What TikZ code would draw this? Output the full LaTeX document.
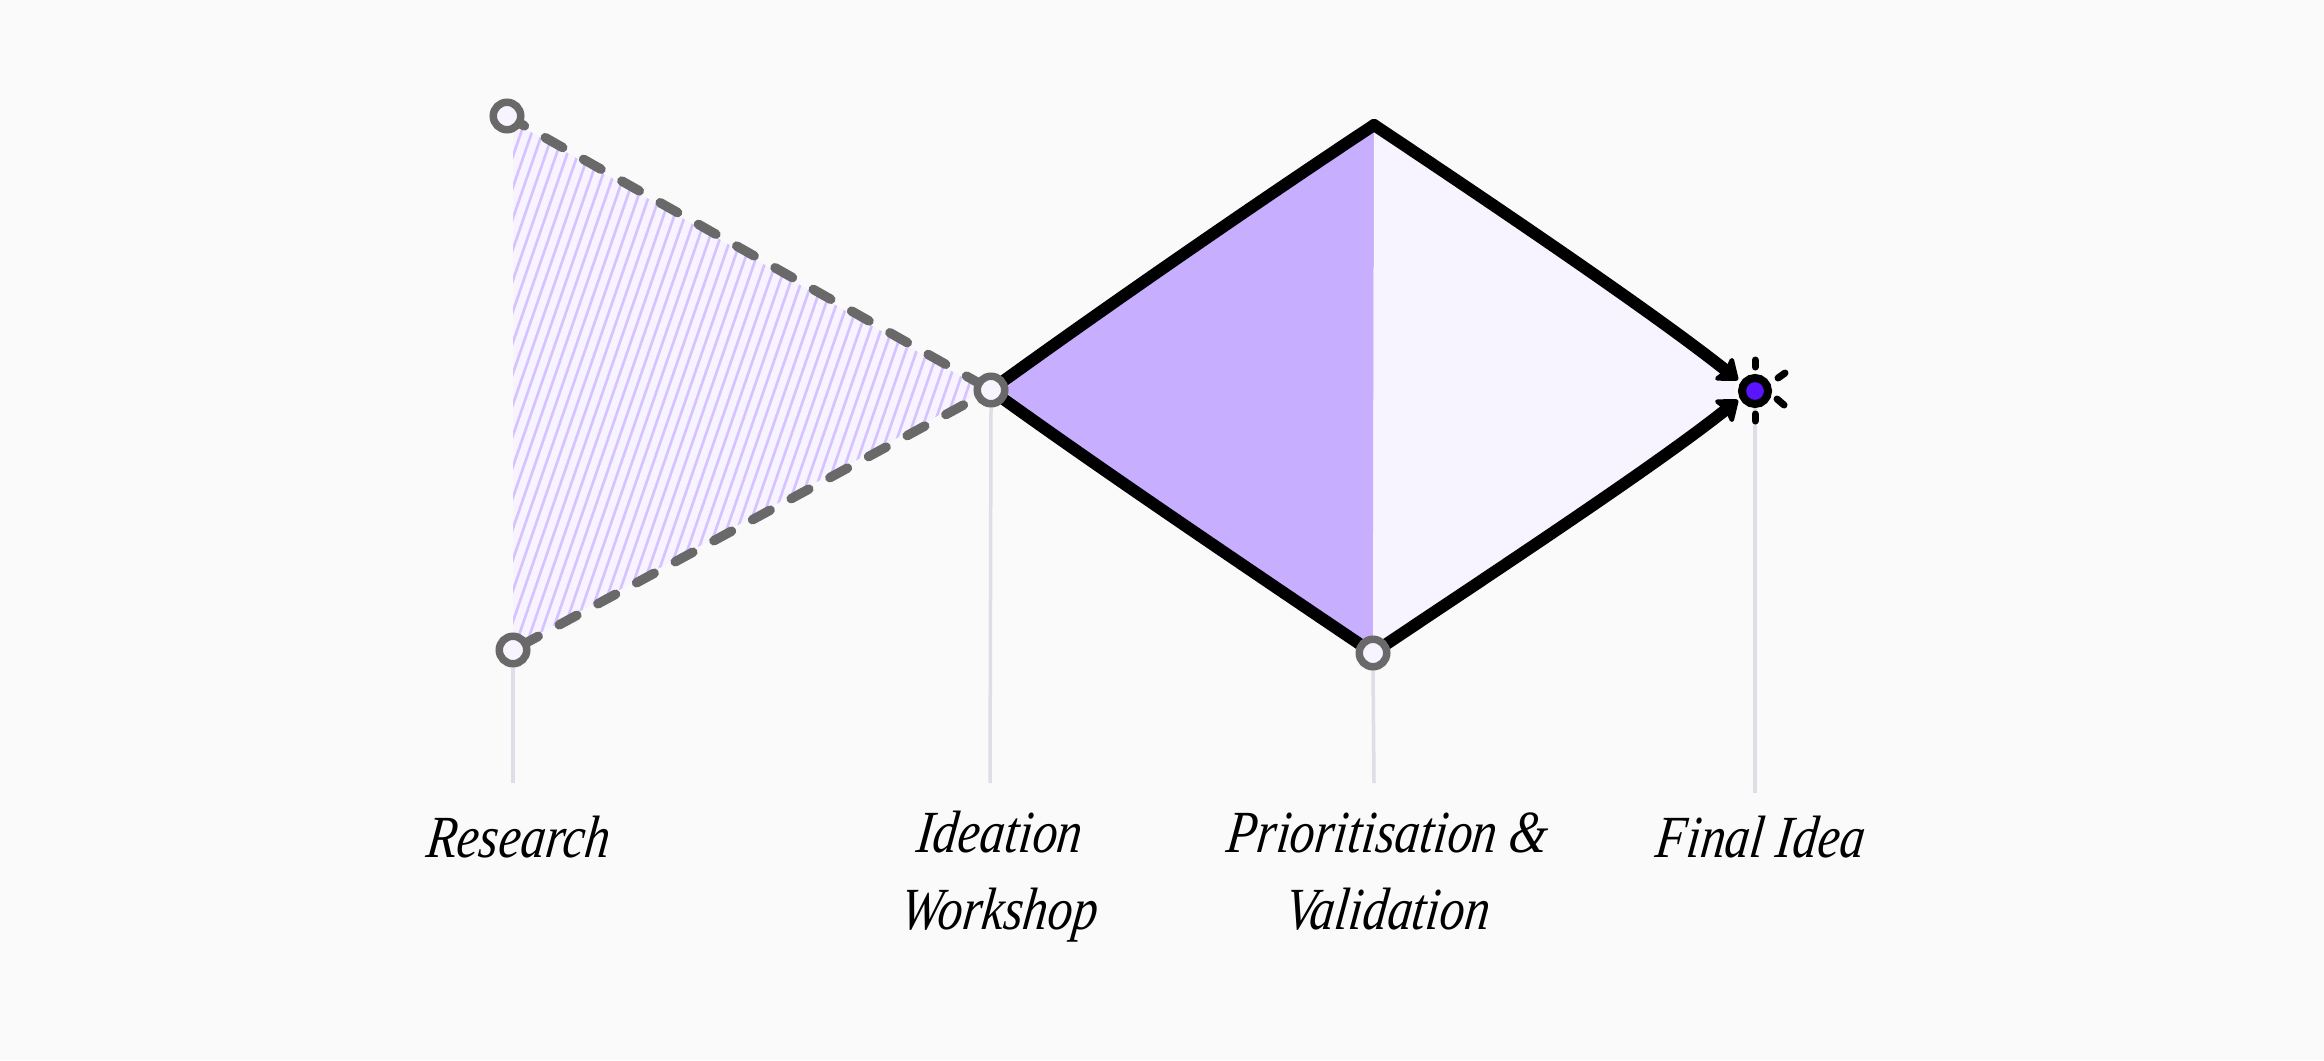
\documentclass[tikz,border=0pt]{standalone}
\usepackage{fontspec}
\usetikzlibrary{arrows.meta,backgrounds}
\newfontfamily\handfont[FakeStretch=0.83,FakeSlant=0.12]{Liberation Serif Italic}
\definecolor{pagebg}{HTML}{FAFAFA}
\definecolor{softfill}{HTML}{F7F3FF}
\definecolor{midfill}{HTML}{C7AEFF}
\definecolor{hatchline}{HTML}{D5C2FF}
\definecolor{greyline}{HTML}{696969}
\definecolor{stemline}{HTML}{DEDEE8}
\definecolor{coreblue}{HTML}{5A14FF}
\tikzset{
  x=1bp,y=-1bp,
  ringdot/.style={circle,draw=greyline,fill=softfill,line width=7.5bp,minimum size=27.5bp,inner sep=0pt},
  coredot/.style={circle,draw=black,fill=coreblue,line width=8bp,minimum size=26bp,inner sep=0pt},
  stem/.style={draw=stemline,line width=3.5bp},
  dashedge/.style={draw=greyline,line width=9.5bp,line cap=round},
  boldedge/.style={draw=black,line width=12bp,line join=round,line cap=round},
  arrowedge/.style={boldedge,-{Stealth[length=22bp,width=34bp,inset=4bp,round,line width=7bp]}},
  rayline/.style={draw=black,line width=7bp,line cap=round},
  hatch/.style={draw=hatchline,line width=2.6bp},
  label/.style={font=\handfont\fontsize{60}{77}\selectfont,align=center,text=black,inner sep=0pt,anchor=base}
}
\begin{document}
\begin{tikzpicture}
\useasboundingbox (0,0) rectangle (2324,1060);
% nodes
\node[ringdot] (research) at (507,116) {};
\node[ringdot] (researchlow) at (513,650) {};
\node[ringdot] (ideation) at (991,390) {};
\node[ringdot] (prior) at (1373,653) {};
\node[coredot] (final) at (1755,391) {};
\coordinate (apex) at (1374,125);
\coordinate (tipup) at (1738,380);
\coordinate (tiplow) at (1738,400);
\coordinate (stemA) at (513,783);
\coordinate (stemB) at (990,783);
\coordinate (stemC) at (1374,783);
\coordinate (stemD) at (1755,793);
\begin{scope}[on background layer]
  \fill[pagebg] (0,0) rectangle (2324,1060);
  % hatched triangle
  \fill[softfill] (513,122) -- (985,390) -- (513,648) -- cycle;
  \begin{scope}
    \clip (513,122) -- (985,390) -- (513,648) -- cycle;
    \foreach \k in {0,...,70} {
      \draw[hatch] ({293.3+10.7*\k},700) -- ++(220,-638);
    }
  \end{scope}
  % diamond halves
  \fill[midfill] (1003,390) .. controls (1090,318) and (1250,207) .. (apex) -- (prior.center)
     .. controls (1250,570) and (1090,460) .. (1003,390) -- cycle;
  \fill[softfill] (apex) .. controls (1500,209) and (1655,314) .. (1735,380) -- (1735,400)
     .. controls (1655,466) and (1500,568) .. (prior.center) -- cycle;
  % stems
  \draw[stem] (researchlow.south) -- (stemA);
  \draw[stem] (ideation.south) -- (stemB);
  \draw[stem] (prior.south) -- (stemC);
  \draw[stem] (final.south) -- (stemD);
  % dashed edges
  \draw[dashedge,dash pattern=on 20bp off 24bp] (research.center) -- (ideation.center);
  \draw[dashedge,dash pattern=on 20bp off 24bp,dash phase=35.3bp] (researchlow.center) -- (ideation.center);
  % bold edges
  \draw[boldedge] (ideation.center) .. controls (1090,318) and (1250,207) .. (apex);
  \draw[boldedge] (ideation.center) .. controls (1090,462) and (1250,570) .. (prior.center);
  \draw[arrowedge] (apex) .. controls (1500,209) and (1655,314) .. (tipup);
  \draw[arrowedge] (prior.center) .. controls (1500,568) and (1655,466) .. (tiplow);
\end{scope}
% rays
\draw[rayline] (1755,360) -- (1755,367);
\draw[rayline] (1755,414) -- (1755,421);
\draw[rayline] (1778,378) -- (1785,373);
\draw[rayline] (1777,399) -- (1784,405);
% labels
\node[label] (labelA) at (517,857) {Research};
\node[label] (labelB) at (998,929) {Ideation\\Workshop};
\node[label] (labelC) at (1386,929) {Prioritisation \&\\Validation};
\node[label] (labelD) at (1759,857) {Final Idea};
\end{tikzpicture}
\end{document}
